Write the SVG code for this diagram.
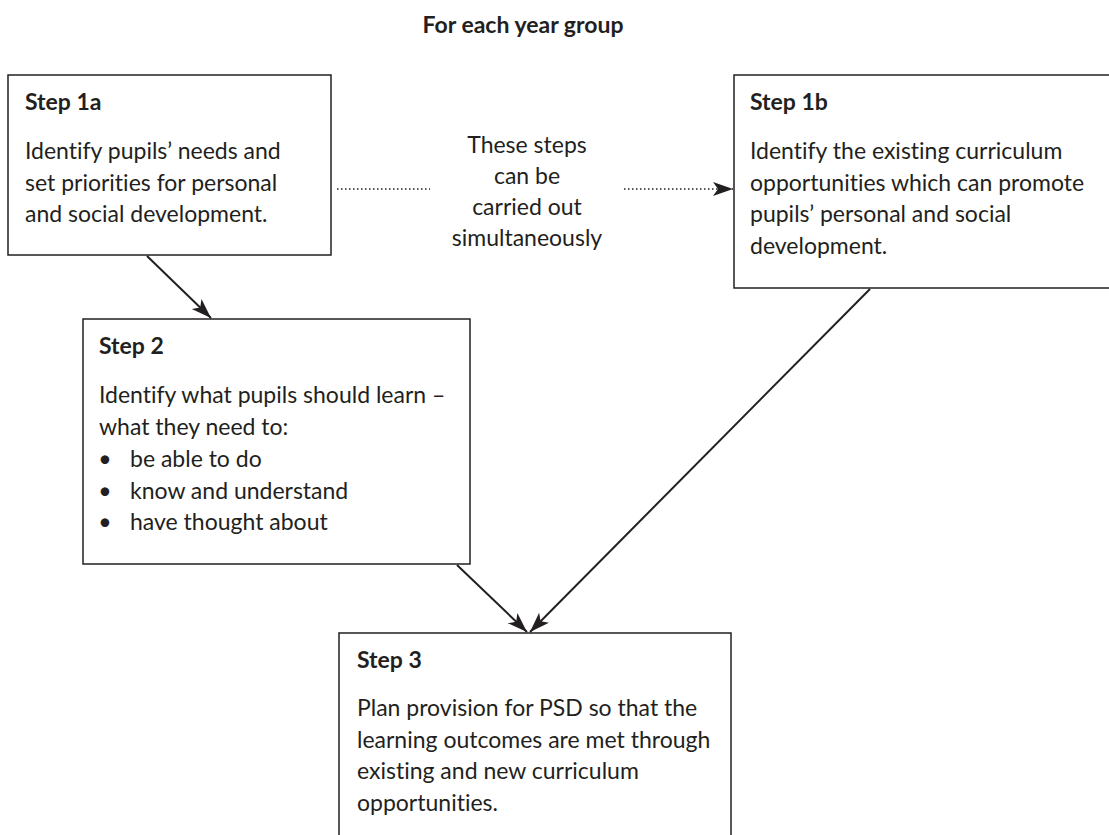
<svg xmlns="http://www.w3.org/2000/svg" width="1109" height="835" viewBox="0 0 1109 835">
<defs>
<marker id="ah" markerUnits="userSpaceOnUse" markerWidth="22" markerHeight="16" refX="20" refY="7" orient="auto">
<path d="M0,0 L20,7 L0,14 L5,7 Z" fill="#231f20"/>
</marker>
<style>
.box{fill:#fff;stroke:#231f20;stroke-width:1.5}
.t{font-family:Lato,"Liberation Sans",sans-serif;font-size:23px;fill:#231f20;font-variant-ligatures:none}
.h{font-family:Lato,"Liberation Sans",sans-serif;font-size:23px;font-weight:bold;fill:#231f20}
.c{text-anchor:middle}
.ln{stroke:#231f20;stroke-width:2;fill:none}
.dot{stroke:#231f20;stroke-width:1.5;stroke-dasharray:1.5 2.5;fill:none}
</style>
</defs>
<rect width="1109" height="835" fill="#fff"/>
<text class="h c" x="523" y="33">For each year group</text>

<g id="step1a">
<rect class="box" x="8" y="75" width="323" height="180"/>
<text class="h" x="25" y="110">Step 1a</text>
<text class="t" x="25" y="159">Identify pupils’ needs and</text>
<text class="t" x="25" y="191">set priorities for personal</text>
<text class="t" x="25" y="222">and social development.</text>
</g>

<g id="note">
<text class="t c" x="527" y="153">These steps</text>
<text class="t c" x="527" y="184">can be</text>
<text class="t c" x="527" y="215">carried out</text>
<text class="t c" x="527" y="246">simultaneously</text>
</g>

<g id="step1b">
<rect class="box" x="734" y="75" width="400" height="213"/>
<text class="h" x="750" y="110">Step 1b</text>
<text class="t" x="750" y="159">Identify the existing curriculum</text>
<text class="t" x="750" y="191">opportunities which can promote</text>
<text class="t" x="750" y="222">pupils’ personal and social</text>
<text class="t" x="750" y="254">development.</text>
</g>

<g id="step2">
<rect class="box" x="83" y="319" width="387" height="245"/>
<text class="h" x="99" y="354">Step 2</text>
<text class="t" x="99" y="403">Identify what pupils should learn –</text>
<text class="t" x="99" y="435">what they need to:</text>
<text class="t c" x="105" y="467">•</text><text class="t" x="130" y="467">be able to do</text>
<text class="t c" x="105" y="499">•</text><text class="t" x="130" y="499">know and understand</text>
<text class="t c" x="105" y="530">•</text><text class="t" x="130" y="530">have thought about</text>
</g>

<g id="step3">
<rect class="box" x="339" y="633" width="392" height="230"/>
<text class="h" x="357" y="668">Step 3</text>
<text class="t" x="357" y="716">Plan provision for PSD so that the</text>
<text class="t" x="357" y="748">learning outcomes are met through</text>
<text class="t" x="357" y="779">existing and new curriculum</text>
<text class="t" x="357" y="811">opportunities.</text>
</g>

<g id="connectors">
<line class="dot" x1="337" y1="189" x2="430" y2="189"/>
<line class="dot" x1="624" y1="189" x2="733" y2="189" marker-end="url(#ah)"/>
<line class="ln" x1="147" y1="256" x2="211" y2="318" marker-end="url(#ah)"/>
<line class="ln" x1="457" y1="565" x2="527" y2="632" marker-end="url(#ah)"/>
<line class="ln" x1="870" y1="289" x2="530" y2="632" marker-end="url(#ah)"/>
</g>
</svg>
